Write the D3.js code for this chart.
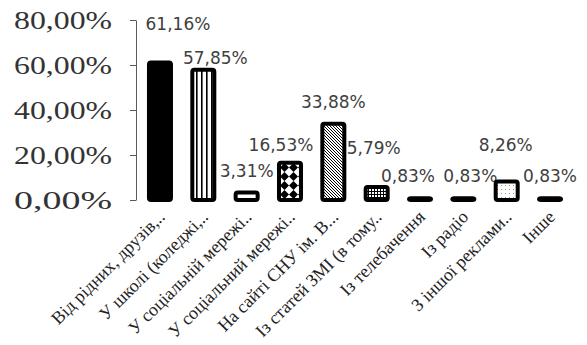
<!DOCTYPE html>
<html>
<head>
<meta charset="utf-8">
<script src="https://cdn.jsdelivr.net/npm/d3@7"></script>
<style>
  body { margin: 0; background: #fff; }
  svg { display: block; }
  .serif { font-family: "Liberation Serif", "Times New Roman", "DejaVu Serif", serif; }
  .sans { font-family: "DejaVu Sans", sans-serif; }
</style>
</head>
<body>
<div class="Canvas"></div>
<script>
// Categories and their shares.
const categories = [
    'Від рідних, друзів,..',
    'У школі (коледжі,..',
    'У соціальній мережі..',
    'У соціальний мережі..',
    'На сайті СНУ ім. В...',
    'Із статей ЗМІ (в тому..',
    'Із телебачення',
    'Із радіо',
    'З іншої реклами..',
    'Інше'
];
const values = [0.6116, 0.5785, 0.0331, 0.1653, 0.3388, 0.0579, 0.0083, 0.0083, 0.0826, 0.0083];
const tickValues = [0, 0.2, 0.4, 0.6, 0.8];
// Fill of each bar: a colour or a pattern id.
const fills = ['#000', 'url(#vstripe)', '#fff', 'url(#diamond)', 'url(#diag)', 'url(#grid)', '#000', '#000', 'url(#dots)', '#000'];
// Label nudges (dx, dy) relative to the default spot above each bar.
const labelShift = [[18, -16], [12, 10], [0, 0], [-9, 4], [0, 0], [-3, -17], [-12, 0], [7, 0], [-1, -14], [0, 0]];

const width = 587;
const height = 345;
const fmt = (v) => (v * 100).toFixed(2).replace('.', ',') + '%';

const svg = d3.select('.Canvas').append('svg').attr('width', width).attr('height', height);
svg.append('rect').attr('width', width).attr('height', height).attr('fill', '#fff');

// Patterns used by the bars.
const defs = svg.append('defs');
const vs = defs.append('pattern').attr('id', 'vstripe').attr('patternUnits', 'userSpaceOnUse').attr('width', 5).attr('height', 5);
vs.append('rect').attr('width', 5).attr('height', 5).attr('fill', '#fff');
vs.append('rect').attr('x', 1).attr('width', 1.6).attr('height', 5).attr('fill', '#000');

const dm = defs.append('pattern').attr('id', 'diamond').attr('patternUnits', 'userSpaceOnUse').attr('width', 9).attr('height', 9).attr('x', 1).attr('y', 1);
dm.append('rect').attr('width', 9).attr('height', 9).attr('fill', '#fff');
dm.append('path').attr('d', 'M4.5,0 L9,4.5 L4.5,9 L0,4.5 Z').attr('fill', '#000');
dm.append('circle').attr('cx', 4.5).attr('cy', 4.5).attr('r', 1.4).attr('fill', '#000');

const dg = defs.append('pattern').attr('id', 'diag').attr('patternUnits', 'userSpaceOnUse').attr('width', 3).attr('height', 3);
dg.append('rect').attr('width', 3).attr('height', 3).attr('fill', '#fff');
dg.append('path').attr('d', 'M-1,-1 L4,4 M-1,2 L1,4 M2,-1 L4,1').attr('stroke', '#000').attr('stroke-width', 1);

const gr = defs.append('pattern').attr('id', 'grid').attr('patternUnits', 'userSpaceOnUse').attr('width', 3).attr('height', 3);
gr.append('rect').attr('width', 3).attr('height', 3).attr('fill', '#000');
gr.append('rect').attr('width', 2).attr('height', 2).attr('fill', '#fff');

const dt = defs.append('pattern').attr('id', 'dots').attr('patternUnits', 'userSpaceOnUse').attr('width', 4).attr('height', 4);
dt.append('rect').attr('width', 4).attr('height', 4).attr('fill', '#fff');
dt.append('rect').attr('x', 1).attr('y', 1).attr('width', 1).attr('height', 1).attr('fill', '#999');

// Scales
const x = d3.scaleBand().domain(categories).range([138.3, 571.7]).paddingInner(0.4).paddingOuter(0.2);
const y = d3.scaleLinear().domain([0, 0.8]).range([200, 20]);

// Y axis
const yAxis = svg.append('g')
    .attr('transform', 'translate(136,0)')
    .call(d3.axisLeft(y).tickValues(tickValues).tickSize(6).tickSizeOuter(0).tickPadding(18).tickFormat(fmt));
yAxis.attr('font-family', null).attr('font-size', null);
yAxis.select('.domain').attr('stroke', '#595959');
yAxis.selectAll('.tick line').attr('stroke', '#595959');
yAxis.selectAll('.tick text')
    .attr('class', 'serif')
    .attr('fill', '#333')
    .style('font-size', '25px')
    .attr('textLength', 98)
    .attr('lengthAdjust', 'spacingAndGlyphs');

// Data labels (drawn first so the bars sit over them, as in the picture)
svg.append('g').selectAll('text')
    .data(values)
    .enter()
    .append('text')
    .attr('class', 'sans')
    .attr('x', (d, i) => x(categories[i]) + x.bandwidth() / 2 + labelShift[i][0])
    .attr('y', (d, i) => y(d) - 16 + labelShift[i][1])
    .attr('text-anchor', 'middle')
    .style('font-size', '17px')
    .attr('fill', '#404040')
    .text((d) => fmt(d));

// Bars
svg.append('g').selectAll('rect')
    .data(values)
    .enter()
    .append('rect')
    .attr('x', (d, i) => x(categories[i]) + 2)
    .attr('width', x.bandwidth() - 4)
    .attr('y', (d) => y(d))
    .attr('height', (d) => y(0) - y(d))
    .attr('rx', 2)
    .attr('fill', (d, i) => fills[i])
    .attr('stroke', '#000')
    .attr('stroke-width', 4);

// Rotated category labels
svg.append('g').selectAll('text')
    .data(categories)
    .enter()
    .append('text')
    .attr('class', 'serif')
    .attr('transform', (d) => `translate(${x(d) + x.bandwidth() / 2 + 6},218) rotate(-45)`)
    .attr('text-anchor', 'end')
    .style('font-size', '18px')
    .attr('fill', '#222')
    .text((d) => d);
</script>
</body>
</html>
